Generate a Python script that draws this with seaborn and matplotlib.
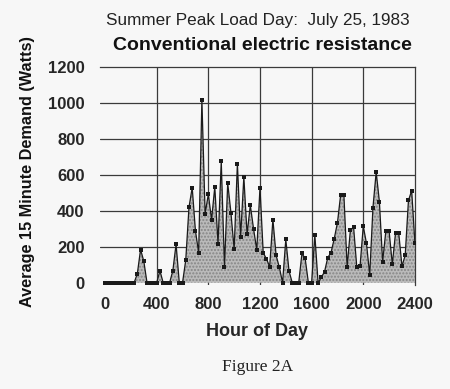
import numpy as np
import pandas as pd
import seaborn as sns
import matplotlib.pyplot as plt

# 15 minute readings, hour of day (HHMM scale, 25 units per 15 min)
hour = np.arange(0, 2401, 25)
watts = [0, 0, 0, 0, 0, 0, 0, 0, 0, 0,            # 0 - 225
         50, 185, 120, 0, 0, 0, 0, 67, 0, 0,       # 250 - 475
         0, 67, 215, 0, 0, 126, 420, 530, 290, 167,  # 500 - 725
         1020, 385, 493, 350, 535, 217, 677, 90, 555, 390,  # 750 - 975
         186, 664, 256, 590, 270, 432, 302, 182, 530, 167,  # 1000 - 1225
         133, 90, 352, 152, 86, 0, 241, 65, 0, 0,   # 1250 - 1475
         0, 163, 135, 0, 0, 266, 0, 30, 61, 140,    # 1500 - 1725
         167, 245, 334, 490, 490, 89, 291, 311, 86, 91,  # 1750 - 1975
         315, 219, 43, 418, 617, 452, 117, 289, 289, 103,  # 2000 - 2225
         278, 275, 91, 154, 458, 513, 222]          # 2250 - 2400

df = pd.DataFrame({'hour': hour, 'watts': watts})

sns.set_style('white')
plt.rcParams['font.family'] = ['Liberation Sans', 'DejaVu Sans']

fig = plt.figure(figsize=(4.5, 3.89), dpi=100, facecolor='#f7f7f7')
ax = fig.add_axes([0.222, 0.2686, 0.700, 0.5584])
ax.set_facecolor('#f7f7f7')

ax.fill_between(df['hour'], df['watts'], 0, facecolor='#bababa',
                hatch='.....', edgecolor='#858585', linewidth=0, zorder=2)
sns.lineplot(data=df, x='hour', y='watts', ax=ax, color='#1a1a1a',
             linewidth=0.9, marker='s', markersize=2.2, markeredgewidth=0,
             zorder=3)

ax.set_xlim(-40, 2400)
ax.set_ylim(-10, 1200)
ax.set_xticks([0, 400, 800, 1200, 1600, 2000, 2400])
ax.set_yticks([0, 200, 400, 600, 800, 1000, 1200])
for yv in [200, 400, 600, 800, 1000]:
    ax.axhline(yv, color='#3a3a3a', lw=0.9, zorder=1)
for xv in [400, 800, 1200, 1600, 2000]:
    ax.axvline(xv, color='#3a3a3a', lw=0.9, zorder=1)

for s in ['left', 'bottom']:
    ax.spines[s].set_visible(False)
for s in ['top', 'right']:
    ax.spines[s].set_color('#3a3a3a')
    ax.spines[s].set_linewidth(0.9)

ax.tick_params(length=0, labelsize=12)
ax.tick_params(axis='y', pad=11)
ax.tick_params(axis='x', pad=9)
for lab in ax.get_xticklabels() + ax.get_yticklabels():
    lab.set_fontweight('bold')

ax.set_xlabel('Hour of Day', fontsize=13, fontweight='bold', labelpad=8)
ax.set_ylabel('')
fig.text(0.062, 0.560, 'Average 15 Minute Demand (Watts)', rotation=90,
         ha='center', va='center', fontsize=11.7, fontweight='bold',
         color='#111111')

fig.text(0.573, 0.948, 'Summer Peak Load Day:  July 25, 1983', ha='center',
         va='center', fontsize=12.3, color='#222222')
fig.text(0.584, 0.884, 'Conventional electric resistance', ha='center',
         va='center', fontsize=14, fontweight='bold', color='#111111')
fig.text(0.573, 0.057, 'Figure 2A', ha='center', va='center', fontsize=12.5,
         family=['Liberation Serif', 'DejaVu Serif'], color='#222222')

plt.savefig('out.png', dpi=100, facecolor=fig.get_facecolor())
